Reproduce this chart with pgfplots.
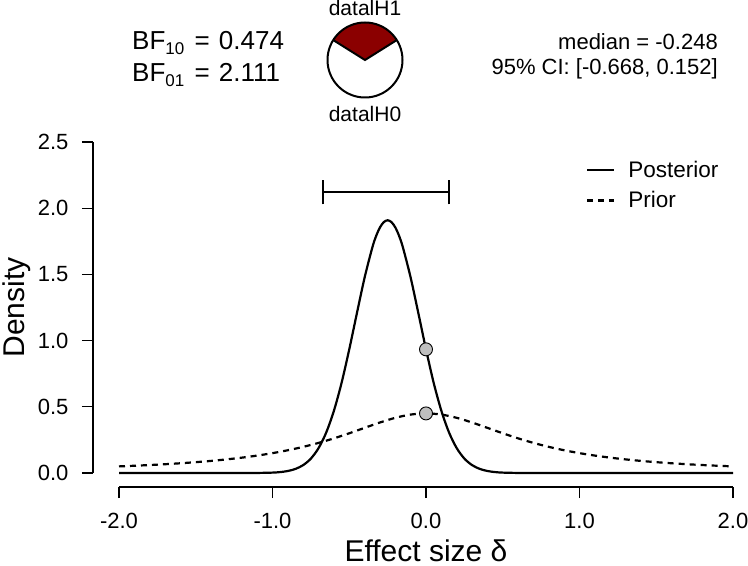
\documentclass[border=0pt]{standalone}
\usepackage{fontspec}
\setmainfont{Liberation Sans}
\usepackage{graphicx}
\usepackage{pgfplots}
\pgfplotsset{compat=1.18}
\usetikzlibrary{calc}
\definecolor{pieRed}{RGB}{139,0,0}
\definecolor{dotGray}{RGB}{191,191,191}
\pgfplotstableread{
x y
-2.0 0
-1.3 0
-1.2 0.0001
-1.1 0.0005
-1.0 0.003
-0.95 0.007
-0.9 0.0152
-0.85 0.031
-0.8 0.0598
-0.75 0.109
-0.7 0.188
-0.65 0.306
-0.6 0.470
-0.55 0.681
-0.5 0.934
-0.45 1.208
-0.4 1.476
-0.35 1.702
-0.325 1.790
-0.3 1.855
-0.275 1.895
-0.25 1.909
-0.225 1.895
-0.2 1.855
-0.175 1.790
-0.15 1.702
-0.1 1.476
-0.05 1.208
0.0 0.934
0.05 0.681
0.1 0.470
0.15 0.306
0.2 0.188
0.25 0.109
0.3 0.0598
0.35 0.031
0.4 0.0152
0.45 0.007
0.5 0.003
0.6 0.0005
0.7 0.0001
0.8 0
2.0 0
}\posterior
\pgfplotstableread{
x y
-2.0 0.0500
-1.9 0.0548
-1.8 0.0602
-1.7 0.0664
-1.6 0.0736
-1.5 0.0819
-1.4 0.0915
-1.3 0.1028
-1.2 0.1160
-1.1 0.1316
-1.0 0.1501
-0.9 0.1719
-0.8 0.1975
-0.7 0.2274
-0.6 0.2617
-0.5 0.3001
-0.4 0.3411
-0.3 0.3815
-0.2 0.4169
-0.1 0.4414
0.0 0.4502
0.1 0.4414
0.2 0.4169
0.3 0.3815
0.4 0.3411
0.5 0.3001
0.6 0.2617
0.7 0.2274
0.8 0.1975
0.9 0.1719
1.0 0.1501
1.1 0.1316
1.2 0.1160
1.3 0.1028
1.4 0.0915
1.5 0.0819
1.6 0.0736
1.7 0.0664
1.8 0.0602
1.9 0.0548
2.0 0.0500
}\prior
\begin{document}
\begin{tikzpicture}[x=1bp,y=1bp]
\path[use as bounding box] (0,0) rectangle (748,-566);
\begin{axis}[
  at={(119bp,-473bp)}, anchor=south west,
  scale only axis, width=614bp, height=331bp,
  xmin=-2, xmax=2, ymin=0, ymax=2.5,
  clip=false,
  axis x line*=bottom, axis y line*=left,
  axis x line shift=14bp, axis y line shift=26bp,
  axis line style={line width=1.3bp, black},
  tick align=outside, major tick length=11bp,
  every tick/.style={black, line width=1.3bp},
  xtick={-2,-1,0,1,2}, xticklabels={-2.0,-1.0,0.0,1.0,2.0},
  ytick={0,0.5,1,1.5,2,2.5}, yticklabels={0.0,0.5,1.0,1.5,2.0,2.5},
  tick label style={font=\fontsize{22bp}{22bp}\selectfont},
  xticklabel style={yshift=-12bp},
  yticklabel style={xshift=-10bp},
  xlabel={Effect size δ}, ylabel={Density},
  label style={font=\fontsize{30bp}{30bp}\selectfont},
  xlabel style={at={(axis description cs:0.5,0)}, anchor=base, yshift=-88bp},
  ylabel style={at={(axis description cs:-0.154,0.5)}, anchor=base, rotate=0},
  legend cell align=left,
  legend style={draw=none, fill=none, at={(rel axis cs:0.7606,0.95)}, anchor=north west,
    font=\fontsize{22.5bp}{22.5bp}\selectfont, row sep=9bp, inner sep=0pt},
  legend image code/.code={\draw[#1] (0bp,0bp) -- (27bp,0bp); \path (38bp,0bp);},
]
\addplot[black, line width=2.2bp, smooth] table[x=x,y=y] {\posterior};
\addlegendentry{Posterior}
\addplot[black, line width=2.2bp, dash pattern=on 6bp off 5bp, smooth] table[x=x,y=y] {\prior};
\addlegendentry{Prior}
\addplot[black, line width=2bp, forget plot] coordinates {(-0.668,2.122) (0.152,2.122)};
\addplot[black, line width=2bp, forget plot] coordinates {(-0.668,2.028) (-0.668,2.216)};
\addplot[black, line width=2bp, forget plot] coordinates {(0.152,2.028) (0.152,2.216)};
\addplot[only marks, mark=*, mark size=6.5bp, mark options={fill=dotGray, draw=black, line width=0.9bp}, forget plot]
  coordinates {(0,0.934) (0,0.450)};
\end{axis}
% Bayes factor texts
\node[anchor=base west, inner sep=0] at (132,-50) {\fontsize{26bp}{26bp}\selectfont BF\raisebox{-5bp}{\fontsize{17bp}{17bp}\selectfont 10}\hspace{3bp} = \hspace{2bp}0.474};
\node[anchor=base west, inner sep=0] at (132,-82) {\fontsize{26bp}{26bp}\selectfont BF\raisebox{-5bp}{\fontsize{17bp}{17bp}\selectfont 01}\hspace{3bp} = \hspace{2bp}2.111};
% pie
\fill[pieRed] (365,-60) -- ++(32.1:37.5) arc[start angle=32.1, end angle=147.9, radius=37.5] -- cycle;
\draw[black, line width=2bp] (365,-60) circle[radius=37.5];
\draw[black, line width=2bp, line join=miter] ($(365,-60)+(32.1:37.5)$) -- (365,-60) -- ($(365,-60)+(147.9:37.5)$);
\node[anchor=base, inner sep=0] at (365,-16) {\fontsize{21bp}{21bp}\selectfont datalH1};
\node[anchor=base, inner sep=0] at (365,-122) {\fontsize{21bp}{21bp}\selectfont datalH0};
% median / CI
\node[anchor=base east, inner sep=0] at (718,-50) {\fontsize{22bp}{22bp}\selectfont median = -0.248};
\node[anchor=base east, inner sep=0] at (718,-75) {\fontsize{22bp}{22bp}\selectfont 95\% CI: [-0.668, 0.152]};
\end{tikzpicture}
\end{document}
